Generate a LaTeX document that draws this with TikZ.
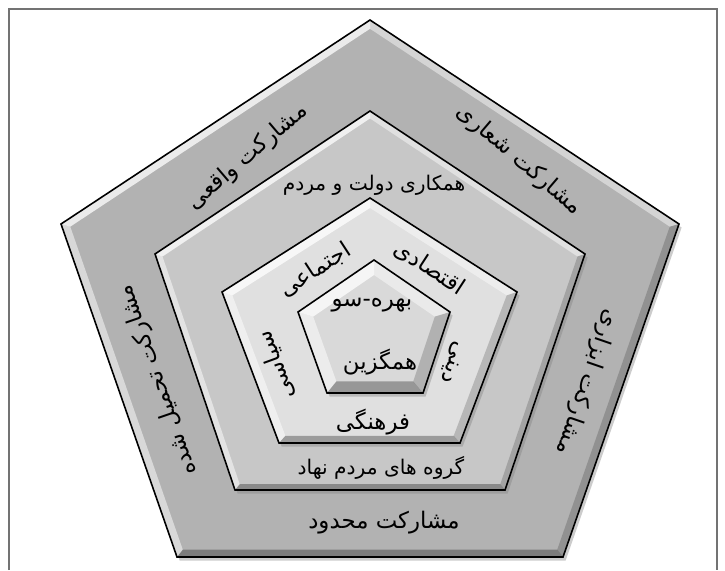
\documentclass[tikz,border=0pt]{standalone}
\usepackage{fontspec}
\usepackage{tikz}
\usetikzlibrary{calc,shadows}
\newfontfamily\farsi[Script=Arabic]{DejaVu Sans}
\TeXXeTstate=1
\newcommand{\fa}[1]{{\farsi\beginR #1\endR}}
\tikzset{edge/.style={black,line width=0.9pt,line join=miter},
  lblbig/.style={font=\fontsize{13}{15}\selectfont,inner sep=0pt},
  lblmid/.style={font=\fontsize{11.5}{14}\selectfont,inner sep=0pt},
  lblsmall/.style={font=\fontsize{13}{15}\selectfont,inner sep=0pt}}
% bevelled pentagon: #1 corner prefix, #2 fill, #3 bevel factor
\newcommand{\bevpent}[3]{%
  \fill[#2,drop shadow={opacity=0.4,shadow xshift=1.5pt,shadow yshift=-2pt}] (#11)--(#12)--(#13)--(#14)--(#15)--cycle;
  \foreach \ia/\ib/\col/\op in {5/1/white/0.75,1/2/white/0.45,4/5/white/0.5,2/3/black/0.18,3/4/black/0.3}
    \fill[\col,opacity=\op] (#1\ia)--(#1\ib)--($(#1c)!#3!(#1\ib)$)--($(#1c)!#3!(#1\ia)$)--cycle;
  \draw[edge] (#11)--(#12)--(#13)--(#14)--(#15)--cycle;
}

\begin{document}
\begin{tikzpicture}[scale=0.5]
  \useasboundingbox (0,0) rectangle (29,-22.8);
  \draw[black!55,line width=1.2pt] (0.36,-22.8)--(0.36,-0.36)--(28.68,-0.36)--(28.68,-22.8);
  % corners
  \coordinate (o1) at (14.8,-0.8);   \coordinate (o2) at (27.16,-8.96);
  \coordinate (o3) at (22.52,-22.28); \coordinate (o4) at (7.08,-22.28);
  \coordinate (o5) at (2.44,-8.96);  \coordinate (oc) at (14.8,-12.5);
  \coordinate (s1) at (14.8,-4.44);  \coordinate (s2) at (23.4,-10.16);
  \coordinate (s3) at (20.2,-19.6);  \coordinate (s4) at (9.4,-19.6);
  \coordinate (s5) at (6.2,-10.16);  \coordinate (sc) at (14.8,-13);
  \coordinate (t1) at (14.8,-7.92);  \coordinate (t2) at (20.68,-11.68);
  \coordinate (t3) at (18.4,-17.72); \coordinate (t4) at (11.16,-17.72);
  \coordinate (t5) at (8.88,-11.68); \coordinate (tc) at (14.8,-13.6);
  \coordinate (n1) at (14.96,-10.4); \coordinate (n2) at (18.0,-12.48);
  \coordinate (n3) at (16.92,-15.72); \coordinate (n4) at (13.08,-15.72);
  \coordinate (n5) at (11.92,-12.48); \coordinate (nc) at (14.96,-13.4);
  \bevpent{o}{black!30}{0.97}
  \bevpent{s}{black!22}{0.965}
  \bevpent{t}{black!12}{0.93}
  \bevpent{n}{black!15}{0.8}
  % outer ring
  \node[lblbig,rotate=40.5] (vaghei) at (9.92,-6.28) {\fa{مشارکت واقعی}};
  \node[lblbig,rotate=-40.5] (shoari) at (20.76,-6.4) {\fa{مشارکت شعاری}};
  \node[lblbig,rotate=109] (tahmili) at (6.32,-15.2) {\fa{مشارکت تحمیل شده}};
  \node[lblbig,rotate=-109] (abzari) at (23.48,-15.28) {\fa{مشارکت ابزاری}};
  \node[lblbig] (mahdud) at (15.36,-20.92) {\fa{مشارکت محدود}};
  % second ring
  \node[lblmid] (hamkari) at (14.96,-7.4) {\fa{همکاری دولت و مردم}};
  \node[lblmid] (nahad) at (15.24,-18.72) {\fa{گروه های مردم نهاد}};
  % third ring
  \node[lblbig,rotate=33] (ejtemai) at (12.6,-10.8) {\fa{اجتماعی}};
  \node[lblbig,rotate=-33] (eghtesadi) at (17.2,-10.72) {\fa{اقتصادی}};
  \node[lblbig,rotate=110] (siasi) at (11.04,-14.6) {\fa{سیاسی}};
  \node[lblbig,rotate=-110] (dini) at (18.08,-14.48) {\fa{دینی}};
  \node[lblbig] (farhangi) at (14.92,-16.88) {\fa{فرهنگی}};
  % core
  \node[lblsmall] (bahresu) at (14.88,-12.2) {\fa{بهره-سو}};
  \node[lblsmall] (hamgozin) at (15.2,-14.48) {\fa{همگزین}};
\end{tikzpicture}
\end{document}
